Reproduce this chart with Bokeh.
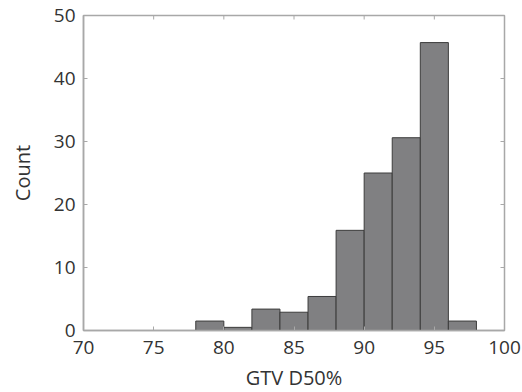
from bokeh.plotting import figure
from bokeh.models import FixedTicker, Range1d
from bokeh.embed import file_html
from bokeh.resources import INLINE

bin_left = [78, 80, 82, 84, 86, 88, 90, 92, 94, 96]
bin_right = [80, 82, 84, 86, 88, 90, 92, 94, 96, 98]
counts = [1.5, 0.5, 3.4, 2.9, 5.4, 15.9, 25.0, 30.6, 45.7, 1.5]
x_ticks = [70, 75, 80, 85, 90, 95, 100]
y_ticks = [0, 10, 20, 30, 40, 50]

FONT = "Open Sans"
AX_COLOR = "#a8a8a8"
TXT = "#333333"
FW, FH = 421, 315
X0, X1, Y0, Y1 = 70, 100, 0, 50

p = figure(frame_width=FW, frame_height=FH,
           x_range=Range1d(X0, X1), y_range=Range1d(Y0, Y1),
           output_backend="svg", toolbar_location=None,
           min_border_left=83, min_border_top=15, min_border_right=18, min_border_bottom=62)
p.background_fill_color = "white"
p.border_fill_color = "white"
p.outline_line_color = AX_COLOR
p.outline_line_width = 1.5
p.grid.visible = False

p.quad(left=bin_left, right=bin_right, bottom=0, top=counts,
       fill_color="#808082", line_color="#3c3c3c", line_width=1)

for ax in (p.xaxis[0], p.yaxis[0]):
    ax.major_tick_in = 4
    ax.major_tick_out = 0
    ax.minor_tick_line_color = None
    ax.axis_line_color = AX_COLOR
    ax.axis_line_width = 1.5
    ax.major_tick_line_color = AX_COLOR
    ax.major_label_text_font = FONT
    ax.major_label_text_font_size = "19px"
    ax.major_label_text_color = TXT
    ax.axis_label_text_font = FONT
    ax.axis_label_text_font_size = "20px"
    ax.axis_label_text_font_style = "normal"
    ax.axis_label_text_color = TXT

p.xaxis[0].ticker = FixedTicker(ticks=x_ticks)
p.yaxis[0].ticker = FixedTicker(ticks=y_ticks)
p.xaxis[0].axis_label = "GTV D50%"
p.yaxis[0].axis_label = "Count"
p.xaxis[0].major_label_standoff = 10
p.yaxis[0].major_label_standoff = 8
p.xaxis[0].axis_label_standoff = 7
p.yaxis[0].axis_label_standoff = 15

# inward ticks on the top and right edges of the box
tx = 4 * (X1 - X0) / FW
ty = 4 * (Y1 - Y0) / FH
p.segment(x0=x_ticks, x1=x_ticks, y0=[Y1] * len(x_ticks), y1=[Y1 - ty] * len(x_ticks),
          line_color=AX_COLOR, line_width=1)
p.segment(x0=[X1] * len(y_ticks), x1=[X1 - tx] * len(y_ticks), y0=y_ticks, y1=y_ticks,
          line_color=AX_COLOR, line_width=1)

open("out.html", "w").write(file_html(p, INLINE))
